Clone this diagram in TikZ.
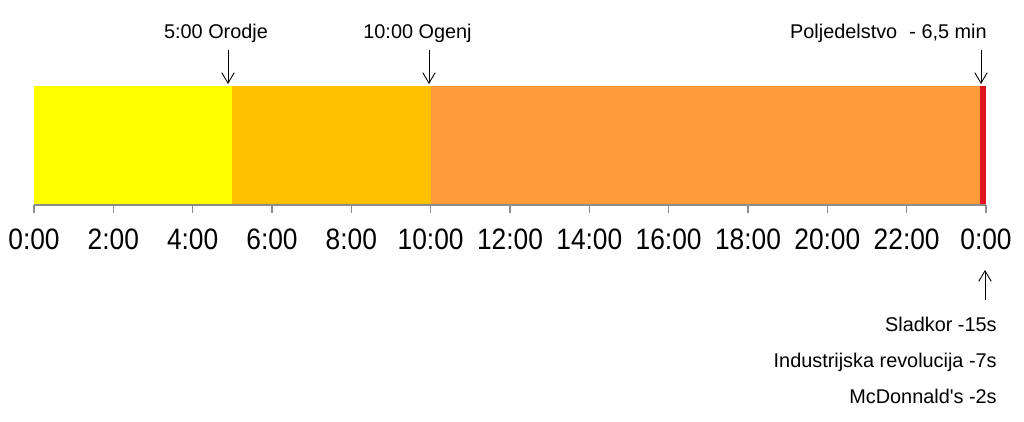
\documentclass[tikz,border=0pt]{standalone}
\usepackage{fontspec}
\setmainfont{Liberation Sans}
\usetikzlibrary{positioning,arrows.meta}

\definecolor{tyellow}{HTML}{FFFF00}
\definecolor{tamber}{HTML}{FFC000}
\definecolor{torange}{HTML}{FD9A3A}
\definecolor{tred}{HTML}{E0141C}
\definecolor{taxis}{HTML}{8C8C8C}

\begin{document}
\begin{tikzpicture}[node distance=0.3cm]
        \tikzset{
            event/.style = {font=\fontsize{11.3}{13}\selectfont, inner sep=0pt, text height=1.6ex, text depth=0.45ex},
            hour/.style = {font=\fontsize{15}{18}\selectfont, inner sep=0pt, yscale=1.12, transform shape},
            arrow/.style = {line width=0.5pt, -{Straight Barb[length=2.1mm, width=2.5mm]}}
        }
        \useasboundingbox (0,0) rectangle (20.48,8.42);

        % the day as one bar
        \fill[tyellow] (0.68,4.32) rectangle (4.647,6.70);
        \fill[tamber]  (4.647,4.32) rectangle (8.613,6.70);
        \fill[torange] (8.613,4.32) rectangle (19.60,6.70);
        \fill[tred]    (19.60,4.32) rectangle (19.72,6.70);

        \draw[taxis, line width=0.6pt] (0.68,4.32) -- (19.72,4.32);
        \foreach \h/\t in {0/0:00, 2/2:00, 4/4:00, 6/6:00, 8/8:00, 10/10:00, 12/12:00, 14/14:00, 16/16:00, 18/18:00, 20/20:00, 22/22:00, 24/0:00} {
            \draw[taxis, line width=0.6pt] ({0.68+\h*0.79333},4.32) -- ({0.68+\h*0.79333},4.16);
            \node[hour] (h\h) at ({0.68+\h*0.79333},3.64) {\t};
        }

        % events above the bar
        \node (tools) [event] at (4.32,7.76) {5:00 Orodje};
        \node (fire) [event] at (8.35,7.76) {10:00 Ogenj};
        \node (farm) [event, anchor=east] at (19.74,7.76) {Poljedelstvo\,\, - 6,5 min};
        \coordinate (tools1) at (4.56,7.42);
        \coordinate (tools0) at (4.56,6.74);
        \coordinate (fire1) at (8.58,7.42);
        \coordinate (fire0) at (8.58,6.74);
        \coordinate (farm1) at (19.62,7.42);
        \coordinate (farm0) at (19.62,6.74);
        \draw [arrow] (tools1) -- (tools0);
        \draw [arrow] (fire1) -- (fire0);
        \draw [arrow] (farm1) -- (farm0);

        % last seconds below the axis
        \node (sugar) [event, anchor=east] at (19.94,1.90) {Sladkor -15s};
        \node (indus) [event, below=0.33cm of sugar.south east, anchor=north east] {Industrijska revolucija -7s};
        \node (mcd) [event, below=0.33cm of indus.south east, anchor=north east] {McDonnald\textquotesingle s -2s};
        \coordinate (now1) at (19.70,2.42);
        \coordinate (now0) at (19.70,3.02);
        \draw [arrow] (now1) -- (now0);

    \end{tikzpicture}
\end{document}
